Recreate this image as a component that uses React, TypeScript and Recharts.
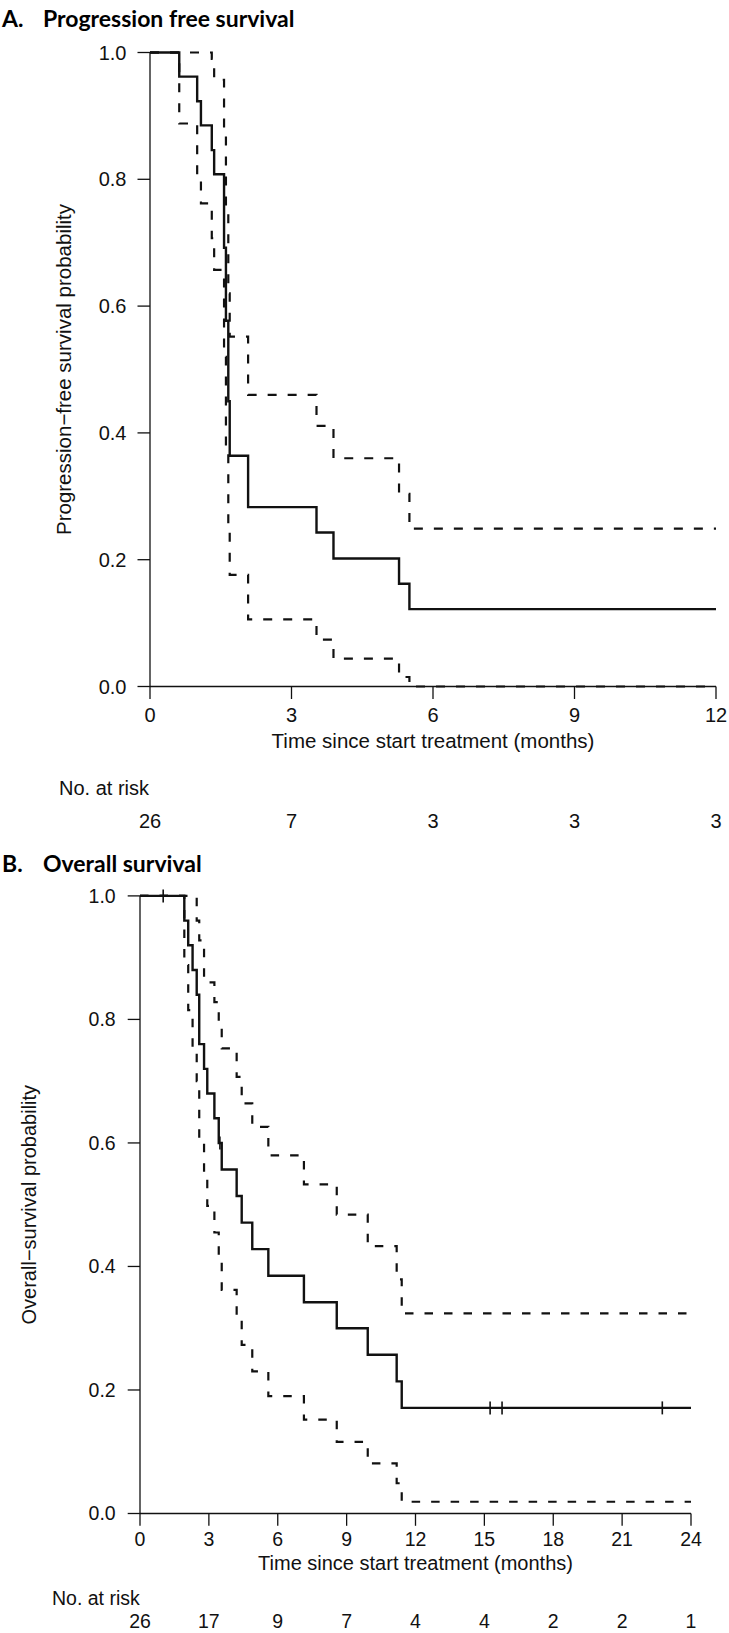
import React from 'react';
import { ComposedChart, Line, XAxis, YAxis, Label } from 'recharts';

// A. progression free survival (months, KM estimate and 95% CI)
const pfsTime = [0, 0.62, 1.0, 1.08, 1.31, 1.36, 1.57, 1.61, 1.66, 1.69, 2.08, 3.53, 3.89, 5.28, 5.5, 12];
const pfsSurv = [1, 0.962, 0.923, 0.885, 0.846, 0.808, 0.692, 0.577, 0.45, 0.364, 0.283, 0.243, 0.202, 0.162, 0.122, 0.122];
const pfsUpper = [1, 1, 1, 1, 0.99, 0.957, 0.87, 0.75, 0.62, 0.552, 0.46, 0.411, 0.36, 0.304, 0.249, 0.249];
const pfsLower = [1, 0.888, 0.8, 0.762, 0.707, 0.657, 0.52, 0.38, 0.25, 0.176, 0.106, 0.074, 0.044, 0.015, 0, 0];
const pfsTicks = [0, 3, 6, 9, 12];
const pfsAtRisk = [26, 7, 3, 3, 3];

// B. overall survival
const osTime = [0, 1.93, 2.1, 2.29, 2.47, 2.58, 2.79, 2.93, 3.24, 3.43, 3.56, 4.21, 4.43, 4.89, 5.59, 7.14, 8.57, 9.92, 11.18, 11.4, 24];
const osSurv = [1, 0.96, 0.92, 0.88, 0.84, 0.76, 0.72, 0.68, 0.64, 0.6, 0.557, 0.514, 0.471, 0.428, 0.385, 0.342, 0.3, 0.257, 0.214, 0.171, 0.171];
const osUpper = [1, 1, 1, 1, 0.96, 0.928, 0.866, 0.86, 0.828, 0.79, 0.753, 0.707, 0.664, 0.626, 0.58, 0.533, 0.484, 0.433, 0.379, 0.324, 0.324];
const osLower = [1, 0.888, 0.815, 0.745, 0.7, 0.605, 0.55, 0.498, 0.455, 0.41, 0.362, 0.316, 0.273, 0.23, 0.19, 0.152, 0.116, 0.081, 0.049, 0.019, 0.019];
const osCensorTime = [1.01, 3.48, 15.25, 15.77, 22.75];
const osCensorSurv = [1, 0.6, 0.171, 0.171, 0.171];
const osTicks = [0, 3, 6, 9, 12, 15, 18, 21, 24];
const osAtRisk = [26, 17, 9, 7, 4, 4, 2, 2, 1];

const yTicks = [0, 0.2, 0.4, 0.6, 0.8, 1.0];

const FONT = "'Liberation Sans', Arial, sans-serif";
const INK = '#111';

const toRows = (t: number[], v: number[]) => t.map((x, i) => ({ t: x, v: v[i] }));

const censorMark = (p: any) => (
  <line
    key={`c-${p.index}`}
    x1={p.cx}
    x2={p.cx}
    y1={p.cy - 6.5}
    y2={p.cy + 6.5}
    stroke={INK}
    strokeWidth={1.6}
  />
);

type PanelProps = {
  top: number;
  height: number;
  margin: { top: number; right: number; bottom: number; left: number };
  xMax: number;
  ticks: number[];
  atRisk: number[];
  time: number[];
  surv: number[];
  upper: number[];
  lower: number[];
  censorTime?: number[];
  censorSurv?: number[];
  fontSize: number;
  titleSize: number;
  tickSize: number;
  yTickMargin: number;
  xTickMargin: number;
  axisHeight: number;
  riskY: number;
  yTitle: string;
  yTitleX: number;
  xTitleY: number;
  dash: string;
};

const Panel = (p: PanelProps) => {
  const plotLeft = p.margin.left + 60;
  const plotW = 729 - p.margin.right - plotLeft;
  const plotH = p.height - p.margin.top - p.margin.bottom - p.axisHeight;
  const midY = p.margin.top + plotH / 2;
  const tickStyle = { fontFamily: FONT, fontSize: p.fontSize, fill: INK };
  const axisStroke = { stroke: INK, strokeWidth: 1.3 };

  // x tick label plus the matching number at risk underneath
  const renderXTick = (t: any) => {
    const v = t.payload.value;
    return (
      <g key={`xt-${v}`} fontFamily={FONT} fontSize={p.fontSize} fill={INK}>
        <text x={t.x} y={t.y} dy="0.71em" textAnchor="middle">{v}</text>
        <text x={t.x} y={p.riskY} textAnchor="middle">{p.atRisk[p.ticks.indexOf(v)]}</text>
      </g>
    );
  };

  return (
    <div style={{ position: 'absolute', left: 0, top: p.top }}>
      <ComposedChart width={729} height={p.height} margin={p.margin}>
        <XAxis
          dataKey="t"
          type="number"
          domain={[0, p.xMax]}
          ticks={p.ticks}
          interval={0}
          height={p.axisHeight}
          tickSize={p.tickSize}
          tickMargin={p.xTickMargin}
          tick={renderXTick}
          axisLine={axisStroke}
          tickLine={axisStroke}
        >
          <Label
            value="Time since start treatment (months)"
            content={() => (
              <text
                x={plotLeft + plotW / 2}
                y={p.xTitleY}
                textAnchor="middle"
                fontFamily={FONT}
                fontSize={p.titleSize}
                fill={INK}
              >
                Time since start treatment (months)
              </text>
            )}
          />
        </XAxis>
        <YAxis
          type="number"
          domain={[0, 1]}
          ticks={yTicks}
          interval={0}
          width={60}
          tickSize={p.tickSize}
          tickMargin={p.yTickMargin}
          tick={tickStyle}
          axisLine={axisStroke}
          tickLine={axisStroke}
          tickFormatter={(v: number) => v.toFixed(1)}
        >
          <Label
            value={p.yTitle}
            content={() => (
              <text
                x={p.yTitleX}
                y={midY}
                transform={`rotate(-90 ${p.yTitleX} ${midY})`}
                textAnchor="middle"
                fontFamily={FONT}
                fontSize={p.titleSize}
                fill={INK}
              >
                {p.yTitle}
              </text>
            )}
          />
        </YAxis>
        <Line
          data={toRows(p.time, p.lower)}
          dataKey="v"
          type="stepAfter"
          stroke={INK}
          strokeWidth={2.2}
          strokeDasharray={p.dash}
          dot={false}
          activeDot={false}
          isAnimationActive={false}
        />
        <Line
          data={toRows(p.time, p.upper)}
          dataKey="v"
          type="stepAfter"
          stroke={INK}
          strokeWidth={2.2}
          strokeDasharray={p.dash}
          dot={false}
          activeDot={false}
          isAnimationActive={false}
        />
        <Line
          data={toRows(p.time, p.surv)}
          dataKey="v"
          type="stepAfter"
          stroke={INK}
          strokeWidth={2.4}
          dot={false}
          activeDot={false}
          isAnimationActive={false}
        />
        {p.censorTime && p.censorSurv && (
          <Line
            data={toRows(p.censorTime, p.censorSurv)}
            dataKey="v"
            stroke="none"
            strokeWidth={0}
            dot={censorMark}
            activeDot={false}
            isAnimationActive={false}
          />
        )}
      </ComposedChart>
    </div>
  );
};

export default function App() {
  return (
    <div style={{ position: 'absolute', left: 0, top: 0, width: 729, height: 1633, background: '#fff', overflow: 'hidden' }}>
      <Panel
        top={0}
        height={840}
        margin={{ top: 52.5, right: 13, bottom: 3.5, left: 90 }}
        xMax={12}
        ticks={pfsTicks}
        atRisk={pfsAtRisk}
        time={pfsTime}
        surv={pfsSurv}
        upper={pfsUpper}
        lower={pfsLower}
        fontSize={20}
        titleSize={20.5}
        tickSize={12.5}
        yTickMargin={11}
        xTickMargin={8.5}
        axisHeight={150}
        riskY={828}
        yTitle="Progression−free survival probability"
        yTitleX={70.6}
        xTitleY={748}
        dash="9 11"
      />
      <Panel
        top={790}
        height={843}
        margin={{ top: 105.9, right: 38, bottom: 0.5, left: 80 }}
        xMax={24}
        ticks={osTicks}
        atRisk={osAtRisk}
        time={osTime}
        surv={osSurv}
        upper={osUpper}
        lower={osLower}
        censorTime={osCensorTime}
        censorSurv={osCensorSurv}
        fontSize={19.5}
        titleSize={20}
        tickSize={12.3}
        yTickMargin={12}
        xTickMargin={6.5}
        axisHeight={119}
        riskY={837.5}
        yTitle="Overall−survival probability"
        yTitleX={36}
        xTitleY={780}
        dash="8.5 11"
      />
      <svg width={729} height={1633} style={{ position: 'absolute', left: 0, top: 0, pointerEvents: 'none' }}>
        <g fontFamily="Lato, 'Noto Sans', sans-serif" fontWeight={700} fontSize={23} fill="#000">
          <text x={2} y={27}>A.</text>
          <text x={43} y={27}>Progression free survival</text>
          <text x={2} y={872}>B.</text>
          <text x={43} y={872}>Overall survival</text>
        </g>
        <g fontFamily={FONT} fill={INK}>
          <text x={59} y={795} fontSize={20}>No. at risk</text>
          <text x={52} y={1605} fontSize={19.5}>No. at risk</text>
        </g>
      </svg>
    </div>
  );
}
